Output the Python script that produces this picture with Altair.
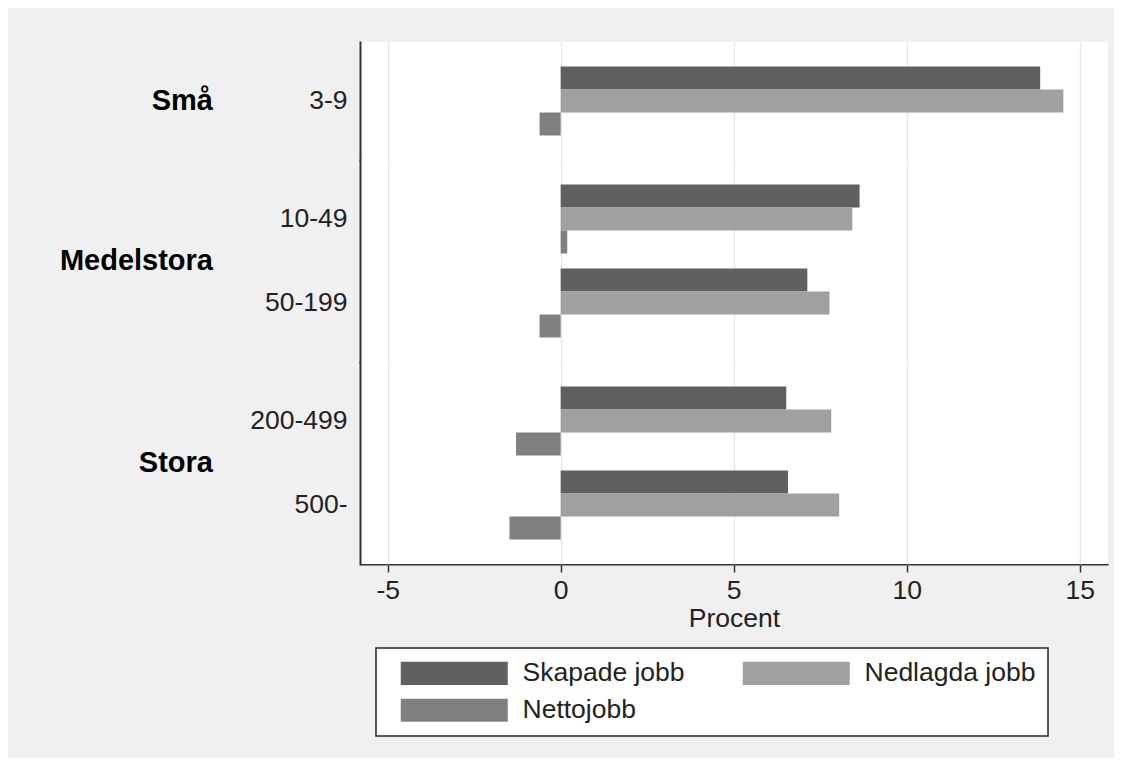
import altair as alt
import pandas as pd

groups = ["Små", "Medelstora", "Medelstora", "Stora", "Stora"]
sizes = ["3-9", "10-49", "50-199", "200-499", "500-"]
series = ["Skapade jobb", "Nedlagda jobb", "Nettojobb"]
skapade = [13.86, 8.64, 7.13, 6.52, 6.57]
nedlagda = [14.53, 8.43, 7.77, 7.82, 8.05]
netto = [-0.61, 0.19, -0.61, -1.29, -1.48]
colors = ["#606060", "#a0a0a0", "#808080"]
group_order = ["Små", "Medelstora", "Stora"]
x_ticks = [-5, 0, 5, 10, 15]

rows = []
for g, s, a, b, c in zip(groups, sizes, skapade, nedlagda, netto):
    for name, v in zip(series, [a, b, c]):
        rows.append({"group": g, "size": s, "series": name, "value": v})
df = pd.DataFrame(rows)

FONT = "Liberation Sans"
FS = 26.5

bars = alt.Chart(df).mark_bar().encode(
    x=alt.X("value:Q",
            scale=alt.Scale(domain=[-5.8, 15.82], nice=False, zero=False),
            axis=alt.Axis(values=x_ticks, title="Procent", grid=True,
                          labelExpr="'' + datum.value",
                          gridColor="#e6e6e6", gridWidth=1.5,
                          domainColor="#333333", domainWidth=2,
                          tickColor="#333333", tickWidth=1.5, tickSize=8,
                          labelFontSize=FS, labelColor="#222222", labelPadding=5,
                          titleFontSize=FS, titleFontWeight="normal",
                          titleColor="#222222", titlePadding=2)),
    y=alt.Y("size:N", sort=sizes,
            scale=alt.Scale(paddingInner=15 / 84, paddingOuter=49 / 168),
            axis=alt.Axis(title=None, ticks=False, grid=False,
                          domainColor="#333333", domainWidth=2, domainCap="square",
                          labelFontSize=FS, labelColor="#222222",
                          labelPadding=13)),
    yOffset=alt.YOffset("series:N", sort=series,
                        scale=alt.Scale(paddingInner=0, paddingOuter=0)),
    color=alt.Color("series:N", sort=series,
                    scale=alt.Scale(domain=series, range=colors),
                    legend=alt.Legend(title=None, orient="none",
                                      legendX=16, legendY=606,
                                      columns=2, direction="horizontal",
                                      symbolType="M-5,-1.075h10v2.15h-10z",
                                      symbolSize=458, symbolStrokeWidth=0,
                                      symbolOffset=53,
                                      labelFontSize=FS, labelColor="#222222",
                                      labelOffset=55, columnPadding=45,
                                      rowPadding=10, padding=12,
                                      labelLimit=400,
                                      fillColor="white", strokeColor="#222222",
                                      symbolOpacity=1)),
).properties(width=748, height=alt.Step(23))

chart = bars.facet(
    row=alt.Row("group:N", sort=group_order,
                header=alt.Header(title=None, labelAngle=0, labelOrient="left",
                                  labelAlign="left", labelBaseline="middle",
                                  labelFontSize=29,
                                  labelFontWeight="bold", labelColor="#000000",
                                  labelPadding=36, labelFont=FONT)),
    spacing=0,
).resolve_scale(y="independent").configure(
    background="#f0f0f0",
    font=FONT,
    padding={"left": 51, "top": 34, "right": 6, "bottom": 21},
).configure_view(fill="white", stroke=None).configure_axis(labelFont=FONT, titleFont=FONT).configure_legend(labelFont=FONT, strokeWidth=1.5)

chart.save("out.html", embed_options={"renderer": "svg", "actions": False})
